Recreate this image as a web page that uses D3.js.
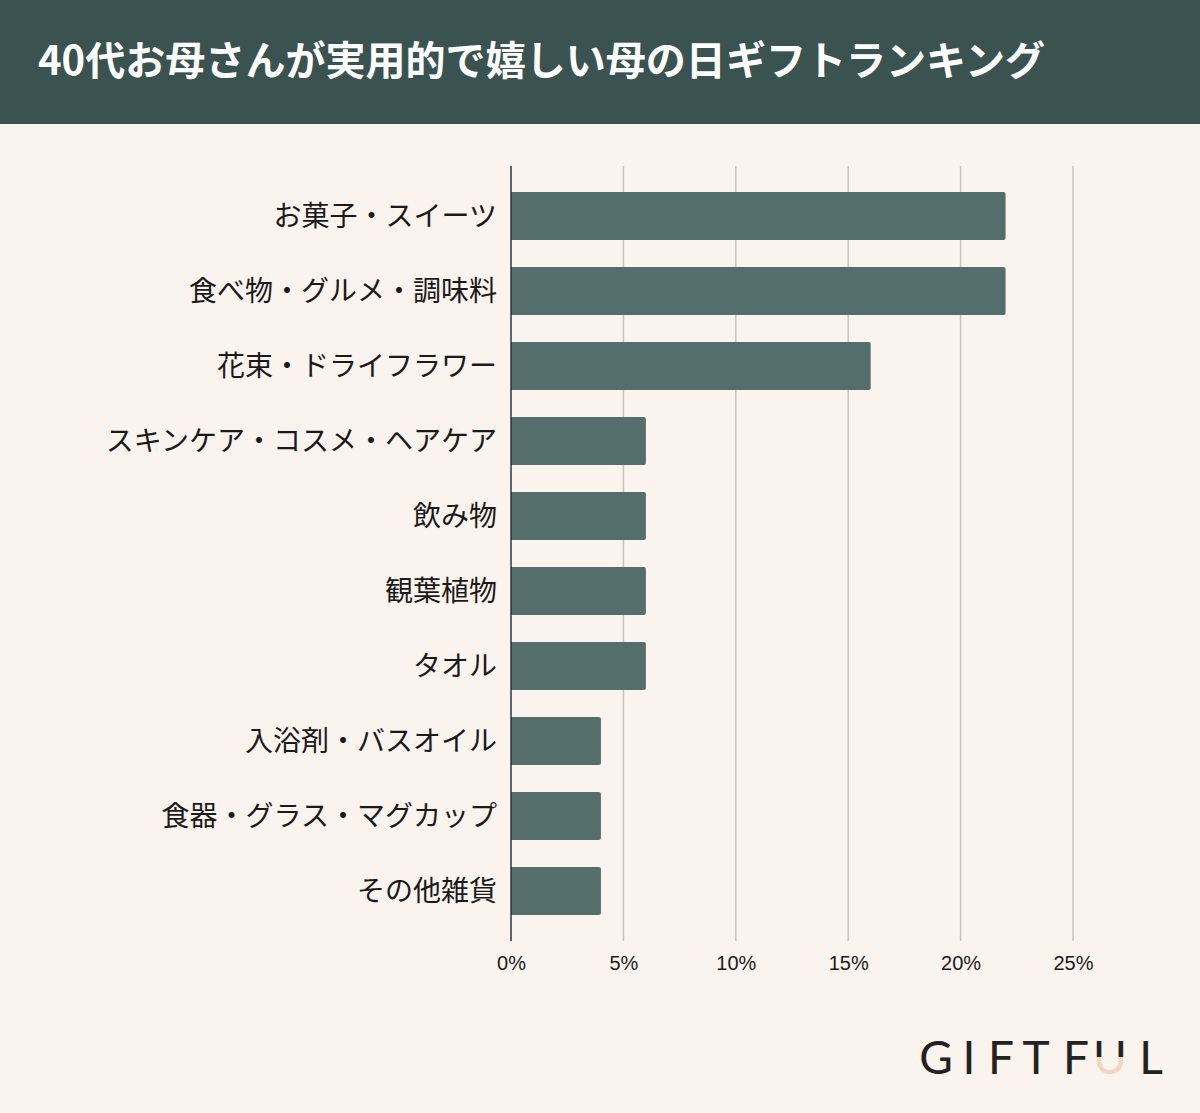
<!DOCTYPE html>
<html>
<head>
<meta charset="utf-8">
<script src="https://cdn.jsdelivr.net/npm/d3@7"></script>
<style>
  body { margin: 0; background: #fbf3ee; }
  svg { display: block; font-family: "Noto Sans CJK JP", "Noto Sans", sans-serif; }
</style>
</head>
<body>
<svg id="chart" width="1200" height="1113"></svg>
<script>
const title = '40代お母さんが実用的で嬉しい母の日ギフトランキング';
const categories = ['お菓子・スイーツ', '食べ物・グルメ・調味料', '花束・ドライフラワー', 'スキンケア・コスメ・ヘアケア',
  '飲み物', '観葉植物', 'タオル', '入浴剤・バスオイル', '食器・グラス・マグカップ', 'その他雑貨'];
const values = [22, 22, 16, 6, 6, 6, 6, 4, 4, 4];
const tickValues = [0, 5, 10, 15, 20, 25];

const svg = d3.select('#chart');

svg.append('rect')
  .attr('width', 1200).attr('height', 1113).attr('fill', '#fbf3ee');

// header band
svg.append('rect')
  .attr('width', 1200).attr('height', 124).attr('fill', '#3a5250');
svg.append('text')
  .attr('x', 38).attr('y', 75)
  .attr('fill', '#fff')
  .attr('font-size', 40).attr('font-weight', 700)
  .attr('textLength', 1007).attr('lengthAdjust', 'spacingAndGlyphs')
  .text(title);

const x = d3.scaleLinear().domain([0, 25]).range([511, 1073]);
const y = d3.scaleBand().domain(categories).range([166, 941])
  .paddingInner(0.36).paddingOuter(0.347);

// grid
svg.append('g')
  .selectAll('line')
  .data(tickValues.slice(1))
  .join('line')
    .attr('x1', d => x(d)).attr('x2', d => x(d))
    .attr('y1', 166).attr('y2', 941)
    .attr('stroke', '#cbc3c2').attr('stroke-width', 1.5);

// bars
svg.append('g')
  .attr('fill', '#546e6c')
  .selectAll('path')
  .data(values)
  .join('path')
    .attr('d', (d, i) => {
      const x0 = x(0), x1 = x(d), y0 = y(categories[i]), h = y.bandwidth(), r = 2;
      return `M${x0},${y0}H${x1 - r}Q${x1},${y0} ${x1},${y0 + r}V${y0 + h - r}Q${x1},${y0 + h} ${x1 - r},${y0 + h}H${x0}Z`;
    });

// y axis line
svg.append('line')
  .attr('x1', x(0)).attr('x2', x(0))
  .attr('y1', 166).attr('y2', 941)
  .attr('stroke', '#333').attr('stroke-width', 1.5);

// category labels
svg.append('g')
  .selectAll('text')
  .data(categories)
  .join('text')
    .attr('x', 497)
    .attr('y', d => y(d) + y.bandwidth() / 2)
    .attr('dy', '0.35em')
    .attr('text-anchor', 'end')
    .attr('font-size', 28)
    .attr('fill', '#1a1a1a')
    .text(d => d);

// x tick labels
const xAxis = d3.axisBottom(x).tickValues(tickValues).tickSize(0).tickFormat(d => d + '%');
const gx = svg.append('g')
  .attr('transform', 'translate(0,953)')
  .call(xAxis);
gx.select('.domain').remove();
gx.selectAll('text')
  .attr('font-size', 20)
  .attr('font-family', '"Liberation Sans", Arial, sans-serif')
  .attr('fill', '#1a1a1a');

// logo
const defs = svg.append('defs');
const grad = defs.append('linearGradient')
  .attr('id', 'ug').attr('x1', 0).attr('y1', 0).attr('x2', 0).attr('y2', 1);
grad.append('stop').attr('offset', '0.5').attr('stop-color', '#222');
grad.append('stop').attr('offset', '0.5').attr('stop-color', '#f2d6bf');

const logo = svg.append('g')
  .attr('font-family', 'Lato, "DejaVu Sans", sans-serif')
  .attr('font-size', 46)
  .attr('font-weight', 400);
const letters = ['G', 'I', 'F', 'T', 'F', 'U', 'L'];
const lx = [936, 969, 1001, 1036, 1076, 1110, 1151];
letters.forEach((ch, i) => {
  logo.append('text')
    .attr('x', lx[i]).attr('y', 1074)
    .attr('text-anchor', 'middle')
    .attr('fill', ch === 'U' ? 'url(#ug)' : '#222')
    .text(ch);
});
</script>
</body>
</html>
